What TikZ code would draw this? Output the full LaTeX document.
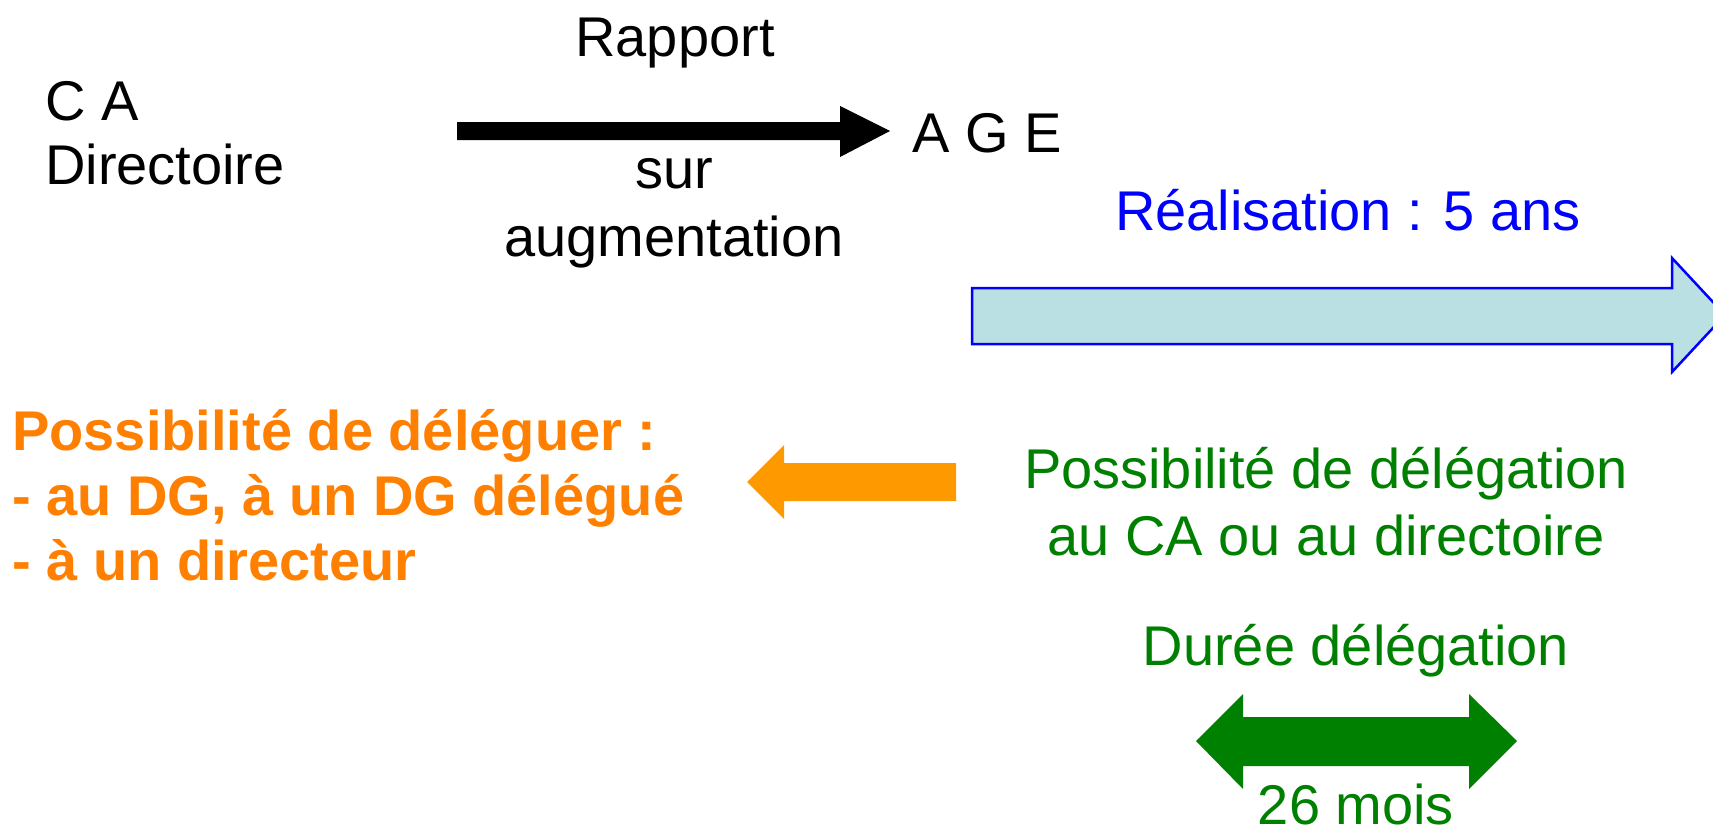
\documentclass[tikz,border=0pt]{standalone}
\usepackage{fontspec}
\setmainfont{Liberation Sans}
\definecolor{txtorange}{RGB}{255,128,0}
\definecolor{arrorange}{RGB}{255,153,0}
\definecolor{dgreen}{RGB}{0,128,0}
\definecolor{lblue}{RGB}{187,224,227}
\definecolor{pblue}{RGB}{0,0,255}
\tikzset{
  lbl/.style={inner sep=0pt, font=\fontsize{56}{66}\selectfont},
  lblw/.style={lbl, anchor=base west},
  lblc/.style={lbl, anchor=base},
  orangetxt/.style={lblw, text=txtorange, font=\fontsize{56}{66}\selectfont\bfseries},
  greentxt/.style={lblc, text=dgreen},
}
\begin{document}
\begin{tikzpicture}[x=1pt,y=-1pt]
\clip (0,0) rectangle (1713,828);
\fill[white] (0,0) rectangle (1713,828);

% top row
\node[lblc] (rapport) at (675,56) {Rapport};
\node[lblw] (ca) at (45,120) {C A};
\node[lblw] (dir) at (45,184) {Directoire};
\node[lblw] (age) at (912,152) {A G E};
\node[lblc] (sur) at (674,188) {sur};
\node[lblc] (augm) at (674,256) {augmentation};

% black arrow
\fill[black] (457,122) -- (840,122) -- (840,106) -- (890,131) -- (840,157) -- (840,140) -- (457,140) -- cycle;

% realisation
\node[lblc, text=pblue] (real) at (1348,230) {Réalisation : 5 ans};
\filldraw[fill=lblue, draw=pblue, line width=2.5pt, line join=miter]
  (972,288) -- (1672,288) -- (1672,258) -- (1725,315) -- (1672,372) -- (1672,344) -- (972,344) -- cycle;

% orange
\node[orangetxt] (o1) at (12,450) {Possibilité de déléguer :};
\node[orangetxt] (o2) at (12,515) {- au DG, à un DG délégué};
\node[orangetxt] (o3) at (12,580) {- à un directeur};
\fill[arrorange] (956,463) -- (784,463) -- (784,445) -- (747,482) -- (784,519) -- (784,501) -- (956,501) -- cycle;

% green
\node[greentxt] (g1) at (1326,488) {Possibilité de délégation};
\node[greentxt] (g2) at (1326,555) {au CA ou au directoire};
\node[greentxt] (g3) at (1356,665) {Durée délégation};
\fill[dgreen] (1196,741) -- (1243,694) -- (1243,717) -- (1469,717) -- (1469,694) -- (1517,741)
  -- (1469,789) -- (1469,766) -- (1243,766) -- (1243,789) -- cycle;
\node[greentxt] (g4) at (1356,824) {26 mois};
\end{tikzpicture}
\end{document}
